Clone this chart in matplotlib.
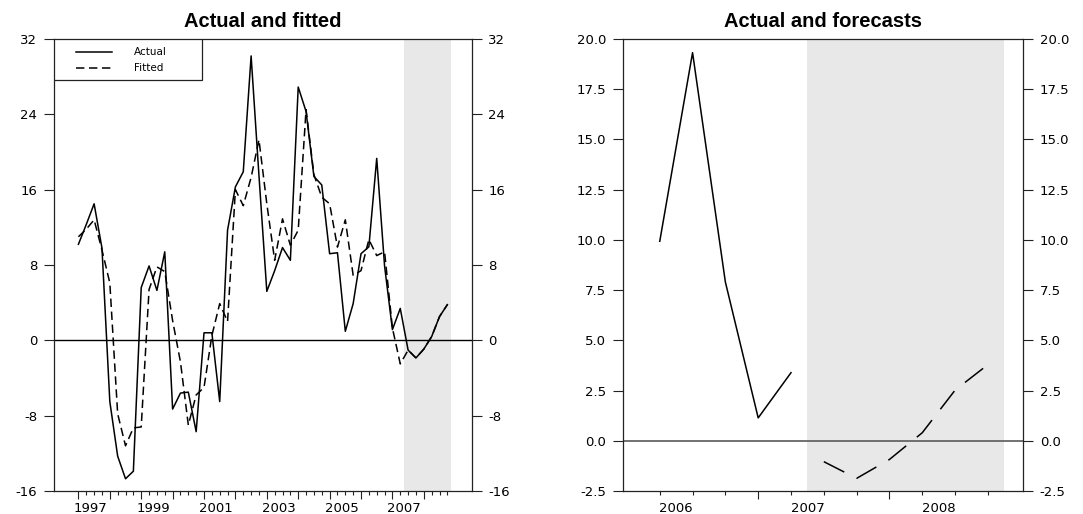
import matplotlib
matplotlib.use("Agg")
import matplotlib.pyplot as plt
from matplotlib.patches import Rectangle
from matplotlib.transforms import blended_transform_factory
import numpy as np

# Quarterly data, 1997Q1 - 2007Q2 (in-sample)
actual = [10.2, 12.3, 14.5, 9.8, -6.5, -12.3, -14.7, -13.9, 5.6, 7.9, 5.3, 9.4,
          -7.3, -5.6, -5.5, -9.7, 0.8, 0.8, -6.5, 11.7, 16.3, 17.9, 30.2, 17.5,
          5.2, 7.4, 9.85, 8.5, 26.9, 24.3, 17.4, 16.5, 9.2, 9.3, 0.96, 3.9,
          9.2, 9.93, 19.32, 7.90, 1.14, 3.39]
fitted = [11.0, 11.8, 12.8, 9.6, 6.1, -7.8, -11.2, -9.3, -9.2, 5.4, 7.8, 7.3,
          2.1, -2.3, -9.0, -5.8, -5.0, 0.5, 3.9, 2.0, 16.0, 14.3, 17.3, 21.3,
          14.5, 8.5, 12.9, 10.1, 11.7, 24.5, 17.6, 15.2, 14.5, 9.9, 12.8, 6.9,
          7.4, 10.7, 9.0, 9.4, 1.3, -2.5]
# Out-of-sample forecasts, 2007Q3 - 2008Q4
forecast = [-1.04, -1.87, -0.93, 0.40, 2.52, 3.79]

start_year = 1997
left_year_labels = ["1997", "1999", "2001", "2003", "2005", "2007"]
right_year_labels = ["2006", "2007", "2008"]
left_yticks = [-16, -8, 0, 8, 16, 24, 32]
right_yticks = [-2.5, 0.0, 2.5, 5.0, 7.5, 10.0, 12.5, 15.0, 17.5, 20.0]
n_recent = 5  # actual quarters shown next to the forecasts

plt.rcParams["font.family"] = ["DejaVu Sans"]
W, H = 1083, 514
fig = plt.figure(figsize=(W / 100, H / 100), dpi=100)

bottom_px, top_px = 491, 39
ax_h = (bottom_px - top_px) / H
ax_y = (H - bottom_px) / H
ax1 = fig.add_axes([54 / W, ax_y, (471.7 - 54) / W, ax_h])
ax2 = fig.add_axes([623 / W, ax_y, (1023 - 623) / W, ax_h])

spine_col = "#222222"
shade_col = "#e8e8e8"
tick_fs = 9.5
title_font = dict(family=["Liberation Sans", "DejaVu Sans"], fontsize=14.5,
                  fontweight="bold")


def style_axes(ax):
    for s in ax.spines.values():
        s.set_color(spine_col)
        s.set_linewidth(0.9)
    ax.tick_params(axis="y", which="both", direction="out", length=7, width=0.8,
                   left=True, right=True, labelleft=True, labelright=True,
                   labelsize=tick_fs, pad=5, color=spine_col)
    ax.tick_params(axis="x", which="major", direction="out", length=6, width=0.8,
                   labelbottom=False, color=spine_col)
    ax.tick_params(axis="x", which="minor", direction="out", length=3, width=0.8,
                   labelbottom=False, color=spine_col)


# ---------------- Left panel: actual and fitted ----------------
n_act = len(actual)
n_all = n_act + len(forecast)
t_all = np.arange(n_all)
actual_ext = actual + forecast
fitted_ext = fitted + forecast

ax1.axvspan(n_act - 0.5, n_all - 0.5, color=shade_col, lw=0, zorder=0)
ax1.axhline(0, color="black", lw=1.0, zorder=1)
ax1.plot(t_all, actual_ext, color="black", lw=1.1, zorder=3)
ax1.plot(t_all, fitted_ext, color="black", lw=1.1, ls=(0, (5.5, 3)), zorder=2)
ax1.set_xlim(-3.11, 50.1)
ax1.set_ylim(-16, 32)
ax1.set_yticks(left_yticks)
ax1.set_yticklabels([str(v) for v in left_yticks])
ax1.set_xticks(np.arange(0, n_all, 4))
ax1.set_xticks(np.arange(0, n_all), minor=True)
style_axes(ax1)
ax1.set_title("Actual and fitted", pad=9, **title_font)

tr1 = blended_transform_factory(ax1.transData, ax1.transAxes)
for lab in left_year_labels:
    pos = (int(lab) - start_year) * 4 + 1.5
    ax1.text(pos, -11 / 452, lab, transform=tr1, ha="center", va="top",
             fontsize=tick_fs)

# legend box
ax_w_px = 471.7 - 54
ax_h_px = bottom_px - top_px
box_w = (202.3 - 54) / ax_w_px
box_h = (80 - 39) / ax_h_px
ax1.add_patch(Rectangle((0, 1 - box_h), box_w, box_h, transform=ax1.transAxes,
                        facecolor="white", edgecolor=spine_col, lw=0.9, zorder=5))
lx0, lx1 = (76.1 - 54) / ax_w_px, (111.6 - 54) / ax_w_px
tx = (134 - 54) / ax_w_px
for row_px, name, style in [(52.4, "Actual", "-"), (68.0, "Fitted", (0, (5.5, 3)))]:
    yy = 1 - (row_px - 39) / ax_h_px
    ax1.plot([lx0, lx1], [yy, yy], transform=ax1.transAxes, color="black",
             lw=1.1, ls=style, zorder=6, clip_on=False)
    ax1.text(tx, yy, name, transform=ax1.transAxes, fontsize=7.5, va="center",
             ha="left", zorder=6)

# ---------------- Right panel: actual and forecasts ----------------
recent = actual[-n_recent:]
u_act = np.arange(n_recent)
u_fc = np.arange(n_recent, n_recent + len(forecast))
ax2.axvspan(n_recent - 0.5, n_recent + len(forecast) - 0.5, color=shade_col,
            lw=0, zorder=0)
ax2.axhline(0, color="#666666", lw=1.3, zorder=1)
ax2.plot(u_act, recent, color="black", lw=1.1, zorder=3)
ax2.plot(u_fc, forecast, color="black", lw=1.1, ls=(0, (15, 9)), zorder=3)
ax2.set_xlim(-1.12, 11.07)
ax2.set_ylim(-2.5, 20.0)
ax2.set_yticks(right_yticks)
ax2.set_yticklabels([f"{v:.1f}" for v in right_yticks])
n_r = n_recent + len(forecast)
# first shown quarter is Q2, so Q1 ticks fall at index 3, 7, ...
ax2.set_xticks(np.arange(3, n_r, 4))
ax2.set_xticks(np.arange(0, n_r), minor=True)
style_axes(ax2)
ax2.set_title("Actual and forecasts", pad=9, **title_font)

tr2 = blended_transform_factory(ax2.transData, ax2.transAxes)
first_year = int(right_year_labels[0])
for lab in right_year_labels:
    pos = (int(lab) - first_year) * 4 + 0.5
    ax2.text(pos, -11 / 452, lab, transform=tr2, ha="center", va="top",
             fontsize=tick_fs)

fig.savefig("out.png", dpi=100)
